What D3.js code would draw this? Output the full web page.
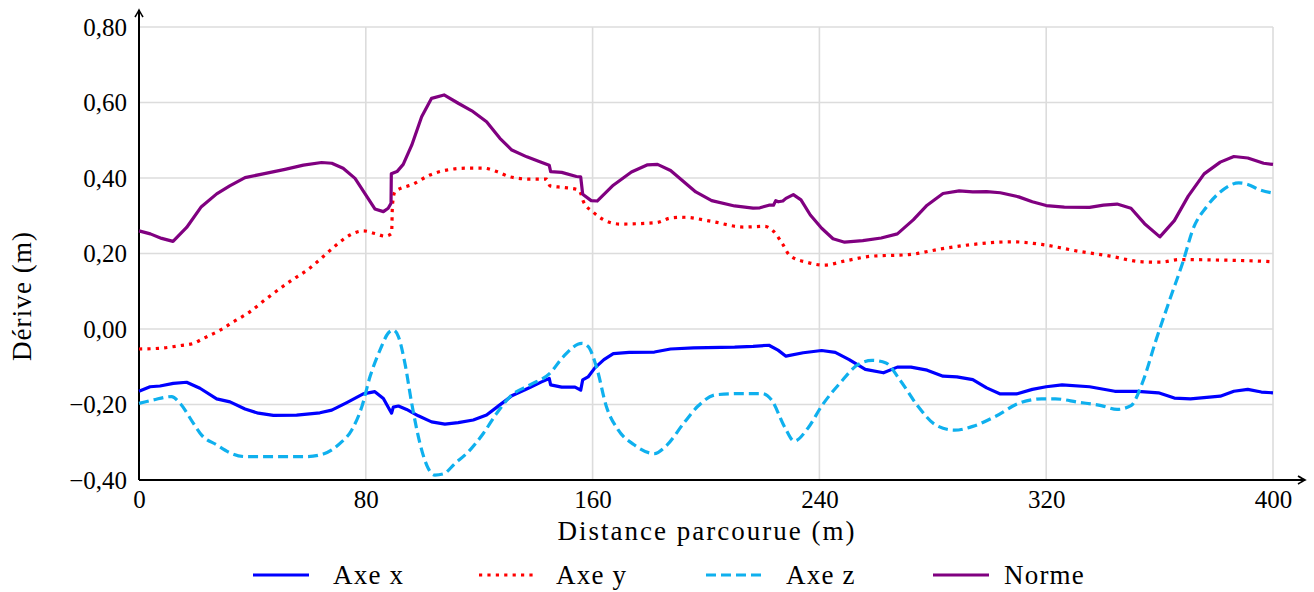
<!DOCTYPE html>
<html><head><meta charset="utf-8">
<script src="https://cdn.jsdelivr.net/npm/d3@7"></script>
<style>
body{margin:0;background:#fff;}
text{font-family:"Liberation Serif","Times New Roman",serif;fill:#000;}
</style></head>
<body><svg id="chart" width="1314" height="592"></svg>
<script>
// ---- data: [distance (m), derive (m)] ----
const xTicks = [0, 80, 160, 240, 320, 400];
const yTicks = [-0.4, -0.2, 0, 0.2, 0.4, 0.6, 0.8];
const seriesNames = ["Axe x", "Axe y", "Axe z", "Norme"];

const axeX = [[0,-0.165],[3.9,-0.153],[7.4,-0.151],[12.1,-0.144],[16.8,-0.141],[21.5,-0.157],[27.4,-0.185],[32.1,-0.193],[37.4,-0.212],[42.1,-0.223],[47.4,-0.229],[55.6,-0.228],[63.8,-0.222],[68,-0.215],[73.3,-0.195],[79.1,-0.172],[83.2,-0.166],[86.2,-0.184],[88.5,-0.215],[89.1,-0.223],[89.7,-0.207],[91.5,-0.204],[94.4,-0.213],[98.5,-0.230],[103.2,-0.246],[107.9,-0.252],[112.6,-0.248],[117.9,-0.241],[122.6,-0.228],[127.3,-0.201],[131.5,-0.177],[137.3,-0.157],[142,-0.140],[144.7,-0.131],[145.2,-0.148],[149.1,-0.154],[153.8,-0.154],[155.8,-0.162],[156.5,-0.135],[158.4,-0.127],[160.8,-0.103],[164,-0.081],[167.3,-0.065],[172.9,-0.062],[181.8,-0.061],[187.5,-0.053],[195.6,-0.050],[210.1,-0.048],[216.6,-0.046],[222.2,-0.043],[225.4,-0.056],[228.2,-0.072],[234.3,-0.063],[240.8,-0.057],[245.6,-0.062],[250.5,-0.081],[256.2,-0.107],[262.6,-0.116],[267.5,-0.101],[272.3,-0.101],[278,-0.109],[283.6,-0.125],[288.5,-0.127],[294.1,-0.134],[299,-0.156],[303.8,-0.172],[309.5,-0.172],[315.1,-0.160],[320,-0.153],[325.6,-0.148],[335.3,-0.153],[344.2,-0.165],[352.3,-0.165],[359.6,-0.169],[365.2,-0.183],[370.9,-0.185],[381.4,-0.178],[386.2,-0.165],[391.1,-0.160],[395.9,-0.167],[400,-0.169]];

const axeY = [[0,-0.053],[7.4,-0.051],[14.5,-0.044],[19.2,-0.038],[22.7,-0.025],[28.6,-0.003],[33.3,0.019],[39.2,0.046],[44.4,0.077],[54.4,0.132],[59.7,0.158],[65,0.192],[69.7,0.223],[74.4,0.249],[79.1,0.260],[83.2,0.253],[86.8,0.246],[89.1,0.253],[89.4,0.328],[90.3,0.364],[96.8,0.384],[102.6,0.408],[108.5,0.421],[115.6,0.426],[121.5,0.426],[126.2,0.417],[130.9,0.403],[137.9,0.397],[143.8,0.397],[145,0.379],[149.7,0.375],[155.2,0.368],[156.8,0.337],[160,0.311],[164,0.289],[169.7,0.278],[182.6,0.282],[187.5,0.294],[192.3,0.296],[202,0.285],[213.3,0.270],[220.6,0.272],[223.8,0.259],[227.1,0.224],[229.5,0.195],[236,0.176],[241.6,0.169],[248.9,0.180],[258.6,0.193],[271.5,0.197],[282.8,0.212],[294.1,0.224],[307.9,0.231],[318.4,0.224],[331.3,0.206],[342.6,0.193],[353.9,0.178],[360.4,0.177],[366.9,0.184],[378.2,0.183],[397.6,0.179],[400,0.178]];

const axeZ = [[0,-0.197],[5,-0.188],[11.5,-0.179],[14.5,-0.197],[19.2,-0.250],[22.1,-0.281],[27.4,-0.307],[32.1,-0.328],[37.4,-0.338],[47.4,-0.338],[59.2,-0.338],[65,-0.331],[70.9,-0.303],[75,-0.268],[78.6,-0.206],[81.5,-0.126],[85,-0.056],[87.9,-0.011],[89.7,-0.003],[91.5,-0.020],[93.8,-0.091],[96.2,-0.197],[99.1,-0.303],[102,-0.369],[104.4,-0.387],[107.3,-0.384],[111.5,-0.356],[116.2,-0.325],[121.5,-0.276],[126.2,-0.223],[130.9,-0.179],[137.9,-0.148],[145,-0.117],[149.7,-0.073],[156.2,-0.038],[158.4,-0.046],[161.6,-0.107],[164.8,-0.204],[168.9,-0.266],[174.5,-0.306],[181.8,-0.330],[185.9,-0.310],[192.3,-0.248],[197.2,-0.204],[203.6,-0.174],[213.3,-0.171],[219.8,-0.171],[223,-0.187],[227.9,-0.262],[231.1,-0.297],[236,-0.262],[240.8,-0.204],[247.3,-0.143],[253.7,-0.094],[258.6,-0.083],[263.5,-0.090],[268.3,-0.134],[274.7,-0.204],[281.2,-0.255],[287.7,-0.268],[294.1,-0.258],[302.2,-0.231],[310.3,-0.197],[318.4,-0.185],[323.2,-0.185],[331.3,-0.194],[339.4,-0.203],[345,-0.213],[349.9,-0.203],[353.9,-0.143],[358.8,-0.028],[363.6,0.078],[368.5,0.184],[371.7,0.263],[376.6,0.324],[381.4,0.363],[387.9,0.387],[391.1,0.383],[395.2,0.369],[400,0.360]];

const norme = [[0,0.260],[4,0.252],[8,0.240],[12,0.232],[16.8,0.269],[22,0.324],[27.4,0.358],[32,0.379],[37.4,0.401],[43.8,0.411],[51.5,0.423],[58,0.434],[64.4,0.441],[68,0.439],[72,0.426],[76.2,0.399],[83.2,0.318],[86.2,0.311],[87.9,0.320],[88.9,0.333],[89,0.411],[91,0.417],[93.2,0.436],[96.2,0.487],[99.7,0.562],[103.2,0.611],[107.6,0.620],[112.6,0.598],[117.4,0.578],[122.6,0.549],[127.3,0.505],[131.5,0.474],[136.8,0.456],[141.4,0.443],[144.7,0.434],[145.2,0.417],[149.1,0.415],[154.3,0.404],[155.8,0.403],[156.5,0.357],[159.5,0.340],[161.6,0.339],[167.3,0.381],[173.7,0.416],[179.4,0.435],[182.9,0.436],[187.5,0.420],[196.4,0.363],[202,0.340],[210.1,0.326],[216.6,0.320],[219,0.321],[222.2,0.328],[223.8,0.328],[224.6,0.340],[225.5,0.337],[227.1,0.339],[228.2,0.346],[230.8,0.356],[233.5,0.342],[236.8,0.302],[240.8,0.267],[244.8,0.239],[248.9,0.230],[255.3,0.234],[261.8,0.241],[267.5,0.252],[273.1,0.289],[278,0.328],[283.6,0.359],[289.3,0.366],[294.1,0.363],[299,0.364],[303.8,0.361],[310.3,0.350],[315.1,0.337],[320,0.327],[326.4,0.323],[335.3,0.322],[340.2,0.328],[345,0.331],[349.9,0.320],[354.7,0.279],[360.1,0.244],[365.2,0.287],[370.1,0.352],[375.7,0.411],[381.4,0.442],[386.2,0.457],[391.1,0.453],[396.7,0.439],[400,0.436]];

// ---- layout ----
const svg = d3.select("#chart");
const L = 139, R = 1273, T = 27, B = 480;
const x = d3.scaleLinear().domain([0, 400]).range([L, R]);
const y = d3.scaleLinear().domain([-0.4, 0.8]).range([B, T]);
const fmt = v => {
  const s = Math.abs(v).toFixed(2).replace(".", ",");
  return (v < -1e-9 ? "\u2212" : "") + s;
};

// grid
const grid = svg.append("g").attr("stroke", "#dcdcdc").attr("stroke-width", 1.6);
grid.selectAll(".gx").data(xTicks).join("line")
  .attr("x1", d => x(d)).attr("x2", d => x(d)).attr("y1", T).attr("y2", B);
grid.selectAll(".gy").data(yTicks).join("line")
  .attr("x1", L).attr("x2", R).attr("y1", d => y(d)).attr("y2", d => y(d));

// axes with D3 axis generators (labels only)
const xAxis = svg.append("g").attr("transform", `translate(0,${B})`)
  .call(d3.axisBottom(x).tickValues(xTicks).tickSize(0).tickPadding(10).tickFormat(d3.format("d")));
xAxis.select(".domain").remove();
xAxis.selectAll("text").attr("font-size", 25).attr("fill", "#000");

const yAxis = svg.append("g").attr("transform", `translate(${L},0)`)
  .call(d3.axisLeft(y).tickValues(yTicks).tickSize(0).tickPadding(12).tickFormat(fmt));
yAxis.select(".domain").remove();
yAxis.selectAll("text").attr("font-size", 25).attr("fill", "#000");

// axis lines with arrows
const ax = svg.append("g").attr("stroke", "#000").attr("stroke-width", 2).attr("fill", "none");
ax.append("line").attr("x1", L).attr("y1", B).attr("x2", L).attr("y2", 10);
ax.append("line").attr("x1", L).attr("y1", B).attr("x2", 1305).attr("y2", B);
ax.append("path").attr("d", `M${L-4},${17} Q${L-1},${12} ${L},${10} Q${L+1},${12} ${L+4},${17}`).attr("stroke-width", 1.6);
ax.append("path").attr("d", `M1298,${B-4} Q1303,${B-1} 1305,${B} Q1303,${B+1} 1298,${B+4}`).attr("stroke-width", 1.6);

// series
const series = [
  {name: "Axe x", data: axeX, color: "#0000ff", dash: null, curve: d3.curveLinear},
  {name: "Axe y", data: axeY, color: "#ff0000", dash: "3.2,5.2", curve: d3.curveMonotoneX},
  {name: "Axe z", data: axeZ, color: "#0fb0ee", dash: "10,5", curve: d3.curveMonotoneX},
  {name: "Norme", data: norme, color: "#800080", dash: null, curve: d3.curveLinear}
];
const plot = svg.append("g");
series.forEach(s => {
  const line = d3.line().x(d => x(d[0])).y(d => y(d[1])).curve(s.curve);
  plot.append("path").datum(s.data)
    .attr("fill", "none").attr("stroke", s.color).attr("stroke-width", 3.2)
    .attr("stroke-linejoin", "round")
    .attr("stroke-dasharray", s.dash)
    .attr("d", line);
});

// titles
svg.append("text").attr("x", (L + R) / 2 + 1).attr("y", 540).attr("text-anchor", "middle")
  .attr("font-size", 27).attr("letter-spacing", 2).text("Distance parcourue (m)");
svg.append("text").attr("transform", "translate(31,296) rotate(-90)").attr("text-anchor", "middle")
  .attr("font-size", 27).attr("letter-spacing", 1.1).text("Dérive (m)");

// legend
const legLineX = [253, 479, 706, 933];
const legTextX = [333, 556, 786, 1004];
const lg = svg.append("g");
series.forEach((s, i) => {
  lg.append("line").attr("x1", legLineX[i]).attr("x2", legLineX[i] + 56).attr("y1", 575).attr("y2", 575)
    .attr("stroke", s.color).attr("stroke-width", 3.2).attr("stroke-dasharray", s.dash);
  lg.append("text").attr("x", legTextX[i]).attr("y", 584).attr("font-size", 27)
    .attr("letter-spacing", 1.2).text(seriesNames[i]);
});
</script></body></html>
